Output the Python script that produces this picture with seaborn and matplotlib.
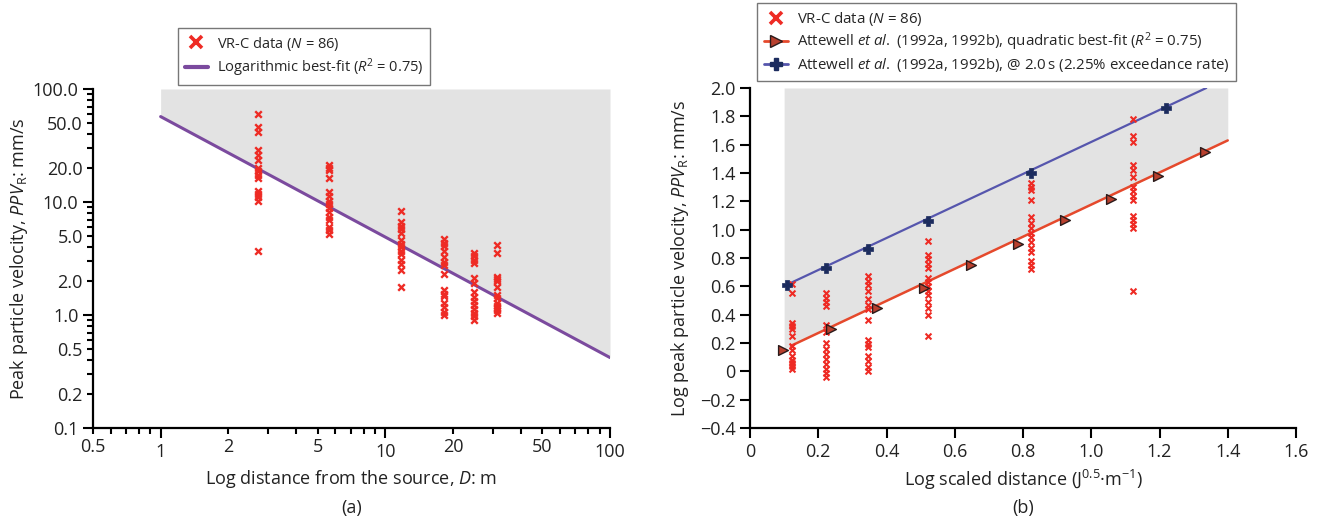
import numpy as np
import pandas as pd
import matplotlib
matplotlib.use("Agg")
import matplotlib.pyplot as plt
import seaborn as sns
from matplotlib.ticker import FixedLocator, FuncFormatter
from matplotlib.lines import Line2D

# ---------------- data ----------------
distance_m = [2.7, 5.6, 11.8, 18.2, 24.8, 31.3]
log_scaled_distance = [1.122, 0.822, 0.522, 0.345, 0.2225, 0.122]
log_ppv_d1 = [1.78, 1.66, 1.62, 1.46, 1.42, 1.37, 1.30, 1.27, 1.24, 1.21, 1.10, 1.07, 1.04, 1.01, 0.57]
log_ppv_d2 = [1.33, 1.30, 1.28, 1.21, 1.09, 1.05, 1.01, 0.98, 0.95, 0.91, 0.87, 0.84, 0.78, 0.75, 0.72]
log_ppv_d3 = [0.92, 0.82, 0.79, 0.76, 0.73, 0.66, 0.63, 0.60, 0.57, 0.54, 0.49, 0.45, 0.40, 0.25]
log_ppv_d4 = [0.67, 0.64, 0.61, 0.57, 0.51, 0.47, 0.44, 0.36, 0.22, 0.19, 0.17, 0.11, 0.07, 0.03, 0.0]
log_ppv_d5 = [0.55, 0.52, 0.49, 0.46, 0.33, 0.28, 0.20, 0.16, 0.12, 0.09, 0.05, 0.02, -0.01, -0.04]
log_ppv_d6 = [0.62, 0.55, 0.34, 0.32, 0.30, 0.25, 0.18, 0.15, 0.11, 0.08, 0.06, 0.04, 0.02]

# logarithmic best fit (panel a), end points
logfit_D = [1, 100]
logfit_ppv = [57, 0.42]

# panel b lines
quadfit_x = [0.12, 1.40]
quadfit_y = [0.18, 1.63]
shade_b_x = [0.10, 1.40]
shade_b_lo = [0.157, 1.63]
att_quad_x = [0.096, 0.236, 0.371, 0.51, 0.648, 0.786, 0.923, 1.059, 1.196, 1.332]
att_quad_y = [0.15, 0.30, 0.445, 0.59, 0.75, 0.90, 1.065, 1.22, 1.38, 1.55]
att_2s_x = [0.107, 0.2225, 0.345, 0.522, 0.822, 1.22]
att_2s_y = [0.61, 0.73, 0.865, 1.06, 1.40, 1.86]
att_2s_line_x = [0.107, 1.337]
att_2s_line_y = [0.61, 2.0]

xticks_a = [0.5, 1, 2, 5, 10, 20, 50, 100]
yticks_a = [0.1, 0.2, 0.5, 1, 2, 5, 10, 20, 50, 100]

# ---------------- build table ----------------
clusters = [log_ppv_d1, log_ppv_d2, log_ppv_d3, log_ppv_d4, log_ppv_d5, log_ppv_d6]
rows = []
for d, sd, vals in zip(distance_m, log_scaled_distance, clusters):
    for v in vals:
        rows.append({"D": d, "logSD": sd, "logPPV": v, "PPV": 10 ** v})
df = pd.DataFrame(rows)

# ---------------- style ----------------
sns.set_theme(style="ticks")
plt.rcParams['font.family'] = ['Open Sans', 'DejaVu Sans']
plt.rcParams['mathtext.fontset'] = 'custom'
plt.rcParams['mathtext.rm'] = 'Open Sans'
plt.rcParams['mathtext.it'] = 'Open Sans:italic'
plt.rcParams['mathtext.bf'] = 'Open Sans:bold'

RED = "#ee2b24"
PURPLE = "#7b4a9e"
ORANGE = "#e5492c"
BLUE_LINE = "#5656ad"
NAVY = "#1c2c5e"
GREY = "#e3e3e3"
TRI_FILL = "#b8402e"

fig = plt.figure(figsize=(13.28, 5.24), dpi=100)
W, H = 1328, 524
axA = fig.add_axes([93 / W, 1 - 428 / H, (610 - 93) / W, (428 - 89) / H])
axB = fig.add_axes([750 / W, 1 - 428 / H, (1296 - 750) / W, (428 - 88) / H])

for ax in (axA, axB):
    ax.set_facecolor("white")
    for s in ("left", "bottom"):
        ax.spines[s].set_linewidth(1.6)
        ax.spines[s].set_color("black")
    sns.despine(ax=ax)
    ax.tick_params(which="both", direction="out", color="black", width=1.5,
                   labelsize=13, labelcolor="#222222")
    ax.tick_params(which="major", length=7)
    ax.tick_params(which="minor", length=4)

# ---------------- panel (a) ----------------
axA.set_xscale("log")
axA.set_yscale("log")
axA.set_xlim(0.5, 100)
axA.set_ylim(0.1, 100)
axA.fill_between(logfit_D, logfit_ppv, [100, 100], color=GREY, lw=0, zorder=0)
sns.lineplot(x=logfit_D, y=logfit_ppv, ax=axA, color=PURPLE, linewidth=2.2, zorder=2)
sns.scatterplot(data=df, x="D", y="PPV", ax=axA, marker="x", color=RED, s=22,
                linewidth=1.7, zorder=3, legend=False)

major_x = [1, 10, 100]
axA.xaxis.set_major_locator(FixedLocator(major_x))
minor_x = [v * m for m in (0.1, 1, 10) for v in range(2, 10) if 0.5 <= v * m < 100]
axA.xaxis.set_minor_locator(FixedLocator(minor_x))
fmt_x = FuncFormatter(lambda v, p: ("%g" % v) if any(abs(v - t) < 1e-9 for t in xticks_a) else "")
axA.xaxis.set_major_formatter(fmt_x)
axA.xaxis.set_minor_formatter(fmt_x)

major_y = [0.1, 1, 10, 100]
axA.yaxis.set_major_locator(FixedLocator(major_y))
minor_y = [v * m for m in (0.1, 1, 10) for v in range(2, 10)]
axA.yaxis.set_minor_locator(FixedLocator(minor_y))
fmt_y = FuncFormatter(lambda v, p: ("%.1f" % v) if any(abs(v - t) < 1e-9 for t in yticks_a) else "")
axA.yaxis.set_major_formatter(fmt_y)
axA.yaxis.set_minor_formatter(fmt_y)
axA.tick_params(which="minor", labelsize=13)

axA.set_xlabel("Log distance from the source, $D$: m", fontsize=13, labelpad=5, color="#222222")
axA.set_ylabel("Peak particle velocity, $PPV_{\\mathrm{R}}$: mm/s", fontsize=13, labelpad=2, color="#222222")

hA = [Line2D([], [], marker="x", color=RED, ls="none", markersize=8, markeredgewidth=2.6),
      Line2D([], [], color=PURPLE, lw=3)]
legA = fig.legend(hA, ["VR-C data ($N$ = 86)", "Logarithmic best-fit ($R^2$ = 0.75)"],
                  loc="upper left", bbox_to_anchor=(178 / W, 1 - 28 / H), borderaxespad=0,
                  fontsize=10.5, frameon=True, fancybox=False, edgecolor="#555555",
                  handlelength=1.6, handletextpad=0.6, labelspacing=0.25, borderpad=0.45)
legA.get_frame().set_linewidth(1.0)

# ---------------- panel (b) ----------------
axB.set_xlim(0, 1.6)
axB.set_ylim(-0.4, 2.0)
axB.fill_between(shade_b_x, shade_b_lo, [2.0, 2.0], color=GREY, lw=0, zorder=0)
sns.lineplot(x=att_2s_line_x, y=att_2s_line_y, ax=axB, color=BLUE_LINE, linewidth=1.6, zorder=2)
sns.lineplot(x=quadfit_x, y=quadfit_y, ax=axB, color=ORANGE, linewidth=1.8, zorder=2)
sns.scatterplot(data=df, x="logSD", y="logPPV", ax=axB, marker="x", color=RED, s=18,
                linewidth=1.5, zorder=3, legend=False)
sns.scatterplot(x=att_quad_x, y=att_quad_y, ax=axB, marker=">", color=TRI_FILL, s=50,
                edgecolor="#2a1a1a", linewidth=1.0, zorder=4, legend=False)
sns.scatterplot(x=att_2s_x, y=att_2s_y, ax=axB, marker="P", color=NAVY, s=48,
                edgecolor=NAVY, linewidth=0.5, zorder=4, legend=False)

yt = np.round(np.arange(-0.4, 2.01, 0.2), 1)
axB.set_yticks(yt)
axB.set_yticklabels([("0" if abs(v) < 1e-9 else ("%.1f" % v).replace("-", "\u2212")) for v in yt])
xt = np.round(np.arange(0, 1.61, 0.2), 1)
axB.set_xticks(xt)
axB.set_xticklabels([("0" if abs(v) < 1e-9 else "%.1f" % v) for v in xt])

axB.set_xlabel("Log scaled distance (J$^{0.5}$·m$^{-1}$)", fontsize=13, labelpad=5, color="#222222")
axB.set_ylabel("Log peak particle velocity, $PPV_{\\mathrm{R}}$: mm/s", fontsize=13, labelpad=6, color="#222222")

hB = [Line2D([], [], marker="x", color=RED, ls="none", markersize=8, markeredgewidth=2.6),
      Line2D([], [], color=ORANGE, lw=2, marker=">", markersize=8, markerfacecolor=TRI_FILL,
             markeredgecolor="#2a1a1a"),
      Line2D([], [], color=BLUE_LINE, lw=2, marker="P", markersize=8, markerfacecolor=NAVY,
             markeredgecolor=NAVY)]
legB = fig.legend(hB, ["VR-C data ($N$ = 86)",
                       "Attewell $et$ $al.$ (1992a, 1992b), quadratic best-fit ($R^2$ = 0.75)",
                       "Attewell $et$ $al.$ (1992a, 1992b), @ 2.0\u2009s (2.25% exceedance rate)"],
                  loc="upper left", bbox_to_anchor=(757 / W, 1 - 3 / H), borderaxespad=0,
                  fontsize=10.8, frameon=True, fancybox=False, edgecolor="#555555",
                  handlelength=1.6, handletextpad=0.6, labelspacing=0.2, borderpad=0.45)
legB.get_frame().set_linewidth(1.0)

# panel tags
posA = axA.get_position()
posB = axB.get_position()
fig.text((posA.x0 + posA.x1) / 2, 1 - 508 / H, "(a)", ha="center", va="center", fontsize=13, color="#222222")
fig.text((posB.x0 + posB.x1) / 2, 1 - 508 / H, "(b)", ha="center", va="center", fontsize=13, color="#222222")

fig.savefig("out.png", dpi=100)
